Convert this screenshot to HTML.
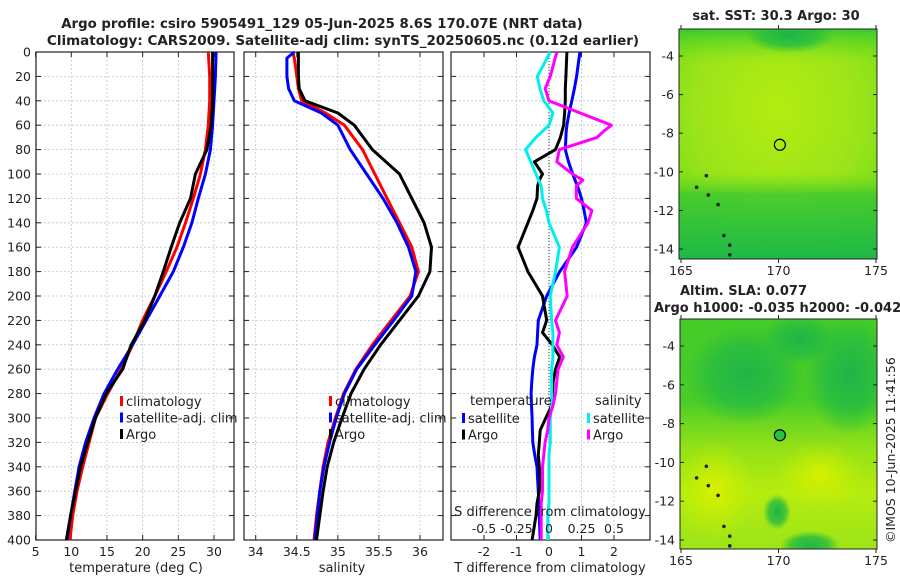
<!DOCTYPE html>
<html><head><meta charset="utf-8"><style>
body{margin:0;background:#fff;width:900px;height:580px;overflow:hidden;font-family:"Liberation Sans","DejaVu Sans",sans-serif}
svg text{font-family:"DejaVu Sans","Liberation Sans",sans-serif;fill:#222}
</style></head><body>
<svg id="c" width="900" height="580" xmlns="http://www.w3.org/2000/svg">
<defs>
<radialGradient id="g1a" cx="0.5" cy="0.35" r="0.7"><stop offset="0" stop-color="#b4ec10"/><stop offset="0.6" stop-color="#9be41a"/><stop offset="1" stop-color="#6fdc18"/></radialGradient>
<linearGradient id="g1b" x1="0" y1="0" x2="0" y2="1"><stop offset="0" stop-color="#2fc830" stop-opacity="0.9"/><stop offset="0.15" stop-color="#6fdc18" stop-opacity="0"/><stop offset="0.62" stop-color="#6fdc18" stop-opacity="0"/><stop offset="0.72" stop-color="#3cc830" stop-opacity="0.85"/><stop offset="1" stop-color="#1eb848" stop-opacity="1"/></linearGradient>
<linearGradient id="g2a" x1="0" y1="0" x2="0" y2="1"><stop offset="0" stop-color="#44cc28"/><stop offset="0.35" stop-color="#48cc28"/><stop offset="0.55" stop-color="#90e018"/><stop offset="0.75" stop-color="#b6ec10"/><stop offset="1" stop-color="#9ce418"/></linearGradient>
<radialGradient id="g2b" cx="0.5" cy="0.5" r="0.5"><stop offset="0" stop-color="#20b448"/><stop offset="0.6" stop-color="#28bc40" stop-opacity="0.8"/><stop offset="1" stop-color="#30c038" stop-opacity="0"/></radialGradient>
<radialGradient id="g2c" cx="0.5" cy="0.5" r="0.5"><stop offset="0" stop-color="#d8f000"/><stop offset="1" stop-color="#c8f000" stop-opacity="0"/></radialGradient>
</defs>
</svg>
<script>
// ---- data ----
const depths=[0,20,40,60,80,100,120,140,160,180,200,220,240,260,280,300,320,340,360,380,400];
const tempClim=[29.2,29.4,29.4,29.2,28.8,28.1,27.1,26.0,24.8,23.3,21.7,20.0,18.6,17.0,15.1,13.4,12.5,11.6,10.8,10.2,9.8];
const tempSat=[30.3,30.2,30.0,29.8,29.5,28.8,27.8,26.9,25.7,24.3,22.4,20.5,18.6,16.5,14.6,13.2,12.0,11.1,10.5,9.9,9.4];
const tempArgo=[29.8,29.8,29.8,29.6,29.0,27.4,26.7,25.2,24.0,22.9,21.7,20.3,18.4,17.2,14.9,13.4,12.3,11.3,10.6,9.9,9.3];
const salDepths=[0,5,20,30,40,50,60,80,100,120,140,160,180,200,220,240,260,280,300,320,340,360,380,400];
const salClim=[34.45,34.47,34.5,34.52,34.56,34.85,35.08,35.3,35.45,35.6,35.75,35.9,35.98,35.88,35.65,35.42,35.22,35.07,34.97,34.88,34.82,34.78,34.74,34.71];
const salSat=[34.47,34.38,34.38,34.4,34.47,34.8,35.0,35.15,35.35,35.55,35.72,35.86,35.95,35.9,35.68,35.45,35.23,35.08,34.98,34.9,34.83,34.78,34.75,34.72];
const salArgo=[34.52,34.52,34.52,34.53,34.6,35.0,35.2,35.42,35.75,35.9,36.05,36.14,36.12,35.98,35.75,35.52,35.32,35.16,35.05,34.95,34.87,34.82,34.78,34.74];
const dDepths=[0,20,30,40,50,60,65,70,80,90,100,105,110,120,130,140,160,180,200,220,230,240,250,260,270,280,290,300,310,320,330,340,350,360,370,380,400];
const dTArgo=[0.55,0.52,0.5,0.5,0.48,0.45,0.4,0.35,0.2,-0.45,-0.2,-0.3,-0.35,-0.37,-0.5,-0.65,-0.95,-0.65,-0.2,-0.07,-0.2,0.1,0.33,0.2,0.13,0.1,0.08,-0.1,-0.27,-0.3,-0.33,-0.3,-0.27,-0.3,-0.37,-0.4,-0.52];
const dTSat=[0.95,0.85,0.78,0.7,0.62,0.55,0.53,0.52,0.5,0.6,0.73,0.8,0.88,1.0,1.08,1.15,0.85,0.33,-0.07,-0.33,-0.35,-0.37,-0.45,-0.5,-0.53,-0.55,-0.54,-0.52,-0.51,-0.5,-0.44,-0.37,-0.35,-0.33,-0.31,-0.3,-0.27];
const dSSat=[0.01,-0.09,-0.07,-0.04,0.03,0.0,-0.05,-0.1,-0.18,-0.14,-0.1,-0.08,-0.06,-0.05,-0.02,0.0,0.08,0.05,0.01,0.02,0.03,0.03,0.03,0.02,0.02,0.02,0.02,0.01,0.01,0.01,0.0,0.0,0.0,0.0,0.0,-0.01,-0.01];
const dSArgo=[0.06,0.01,-0.03,0.0,0.24,0.48,0.42,0.37,0.08,0.06,0.18,0.26,0.21,0.21,0.33,0.3,0.18,0.12,0.14,0.05,0.08,0.06,0.11,0.07,0.06,0.05,0.03,0.0,-0.01,-0.03,-0.04,-0.05,-0.05,-0.05,-0.06,-0.06,-0.06];
const yTicks=[0,20,40,60,80,100,120,140,160,180,200,220,240,260,280,300,320,340,360,380,400];
const tTicks=[5,10,15,20,25,30];
const sTicks=[34,34.5,35,35.5,36];
const dtTicks=[-2,-1,0,1,2];
const dsTicks=[-0.5,-0.25,0,0.25,0.5];
const dsTickLabels=["-0.5","-0.25","0","0.25","0.5"];
const latTicks=[-4,-6,-8,-10,-12,-14];
const lonTicks=[165,170,175];
const argoLon=170.07, argoLat=-8.6;

// ---- helpers ----
const svg=document.getElementById('c');
const NS='http://www.w3.org/2000/svg';
function mk(tag,attrs,parent){const e=document.createElementNS(NS,tag);for(const k in attrs)e.setAttribute(k,attrs[k]);(parent||svg).appendChild(e);return e;}
function txt(s,x,y,attrs,parent){const e=mk('text',Object.assign({x:x,y:y},attrs||{}),parent);e.textContent=s;return e;}
const Y0=52,Y1=540;
const yS=d=>Y0+(d/400)*(Y1-Y0);
function linScale(d0,d1,r0,r1){return v=>r0+(v-d0)/(d1-d0)*(r1-r0);}

function panel(name,x0,x1,xs,xticks,xlabels,showY){
  const g=mk('g',{});
  
  
  mk('rect',{x:x0,y:Y0,width:x1-x0,height:Y1-Y0,fill:'#fff'},g);
  yTicks.forEach(d=>{mk('line',{x1:x0,x2:x1,y1:yS(d),y2:yS(d),stroke:'#b8c4e0','stroke-width':0.8,'stroke-dasharray':'2,2'},g);
    mk('line',{x1:x0,x2:x0+5,y1:yS(d),y2:yS(d),stroke:'#222'},g);mk('line',{x1:x1-5,x2:x1,y1:yS(d),y2:yS(d),stroke:'#222'},g);
    if(showY){const t=txt(String(d),x0-5,yS(d)+4.5,{'text-anchor':'end','font-size':12.5},g);}
  });
  xticks.forEach((v,i)=>{const x=xs(v);mk('line',{x1:x,x2:x,y1:Y0,y2:Y1,stroke:'#b8c4e0','stroke-width':0.8,'stroke-dasharray':'2,2'},g);
    mk('line',{x1:x,x2:x,y1:Y0,y2:Y0+5,stroke:'#222'},g);mk('line',{x1:x,x2:x,y1:Y1-5,y2:Y1,stroke:'#222'},g);
    if(xlabels){const t=txt(xlabels[i],x,556,{'text-anchor':'middle','font-size':12.5},g);}
  });
  mk('rect',{x:x0,y:Y0,width:x1-x0,height:Y1-Y0,fill:'none',stroke:'#222','stroke-width':1.2},g);
  return g;
}
function series(name,g,xs,vals,ds,color,w){
  const p=ds.map((d,i)=>(i?'L':'M')+xs(vals[i]).toFixed(1)+','+yS(d).toFixed(1)).join('');
  const e=mk('path',{d:p,fill:'none',stroke:color,'stroke-width':w||3,'stroke-linejoin':'round'},g);
  
  
}
function legend(g,x,y,items,fs){
  items.forEach((it,i)=>{const yy=y+i*16.5;
    mk('rect',{x:x,y:yy-9,width:3,height:10,fill:it[1]},g);
    const t=txt(it[0],x+6,yy+1,{'font-size':fs||13},g);
    
    
  });
}

// titles
let t=txt('Argo profile: csiro 5905491_129 05-Jun-2025 8.6S 170.07E (NRT data)',322,28,{'text-anchor':'middle','font-size':13.3,'font-weight':'bold'});

t=txt('Climatology: CARS2009. Satellite-adj clim: synTS_20250605.nc (0.12d earlier)',343,45,{'text-anchor':'middle','font-size':13.5,'font-weight':'bold'});


// panel 1 temperature
const xT=linScale(5,30,35.6,214);
const g1=panel('temperature-panel',36,234,xT,tTicks,tTicks.map(String),true);
series('temp-climatology-line',g1,xT,tempClim,depths,'#f00');
series('temp-satellite-line',g1,xT,tempSat,depths,'#00f');
series('temp-argo-line',g1,xT,tempArgo,depths,'#000');
legend(g1,120,405,[['climatology','#f00'],['satellite-adj. clim','#00f'],['Argo','#000']]);
t=txt('temperature (deg C)',136,572,{'text-anchor':'middle','font-size':13});

// panel 2 salinity
const xS=linScale(34,36,255.7,420);
const g2=panel('salinity-panel',244,443,xS,sTicks,['34','34.5','35','35.5','36'],false);
series('sal-climatology-line',g2,xS,salClim,salDepths,'#f00');
series('sal-satellite-line',g2,xS,salSat,salDepths,'#00f');
series('sal-argo-line',g2,xS,salArgo,salDepths,'#000');
legend(g2,329,405,[['climatology','#f00'],['satellite-adj. clim','#00f'],['Argo','#000']]);
t=txt('salinity',342,572,{'text-anchor':'middle','font-size':13});

// panel 3 differences
const xDT=linScale(-2,2,484,614);
const xDS=linScale(-0.5,0.5,484,614);
const g3=panel('difference-panel',451,650,xDT,dtTicks,dtTicks.map(String),false);
mk('line',{x1:xDT(0),x2:xDT(0),y1:Y0,y2:Y1,stroke:'#333','stroke-width':1,'stroke-dasharray':'1,2'},g3);
series('dT-satellite-line',g3,xDT,dTSat,dDepths,'#00f');
series('dT-argo-line',g3,xDT,dTArgo,dDepths,'#000');
series('dS-satellite-line',g3,xDS,dSSat,dDepths,'#0ee');
series('dS-argo-line',g3,xDS,dSArgo,dDepths,'#f0f');
t=txt('temperature',470,405,{'font-size':13},g3);
t=txt('salinity',595,405,{'font-size':13},g3);
legend(g3,462,422,[['satellite','#00f'],['Argo','#000']]);
legend(g3,587,422,[['satellite','#0ee'],['Argo','#f0f']]);
t=txt('S difference from climatology',550,516,{'text-anchor':'middle','font-size':13},g3);
dsTicks.forEach((v,i)=>{const e=txt(dsTickLabels[i],xDS(v),533,{'text-anchor':'middle','font-size':12.5},g3);});
t=txt('T difference from climatology',550,572,{'text-anchor':'middle','font-size':13});

// maps
function map(name,x0,x1,y0,y1,latY4,latY14,fill,extra){
  const g=mk('g',{});
  
  
  const lon=linScale(165,175,681,876), lat=linScale(-4,-14,latY4,latY14);
  const cp='clip'+name;
  const cl=mk('clipPath',{id:cp},g);mk('rect',{x:x0,y:y0,width:x1-x0,height:y1-y0},cl);
  const inner=mk('g',{'clip-path':'url(#'+cp+')'},g);
  fill(inner,x0,x1,y0,y1,lon,lat);
  mk('rect',{x:x0,y:y0,width:x1-x0,height:y1-y0,fill:'none',stroke:'#222','stroke-width':1},g);
  latTicks.forEach(v=>{mk('line',{x1:x0,x2:x0+4,y1:lat(v),y2:lat(v),stroke:'#222'},g);mk('line',{x1:x1-4,x2:x1,y1:lat(v),y2:lat(v),stroke:'#222'},g);
    const e=txt(String(v),x0-5,lat(v)+4.5,{'text-anchor':'end','font-size':12.5},g);});
  lonTicks.forEach(v=>{mk('line',{x1:lon(v),x2:lon(v),y1:y1,y2:y1+4,stroke:'#222'},g);mk('line',{x1:lon(v),x2:lon(v),y1:y0-4,y2:y0,stroke:'#222'},g);
    const e=txt(String(v),lon(v),y1+16,{'text-anchor':'middle','font-size':12.5},g);});
  [[165.8,-10.8],[166.3,-10.2],[166.9,-11.7],[167.2,-13.3],[167.5,-13.8],[167.5,-14.3],[166.4,-11.2]].forEach(p=>{
    mk('circle',{cx:lon(p[0]),cy:lat(p[1]),r:1.8,fill:'#222'},g);});
  const c=mk('circle',{cx:lon(argoLon),cy:lat(argoLat),r:5.5,fill:extra,stroke:'#000','stroke-width':1.2},g);
  
  
  return g;
}
map('sst-map',679,877,29,259,56,249,(g,x0,x1,y0,y1)=>{
  mk('rect',{x:x0,y:y0,width:x1-x0,height:y1-y0,fill:'url(#g1a)'},g);
  mk('rect',{x:x0,y:y0,width:x1-x0,height:y1-y0,fill:'url(#g1b)'},g);
  mk('ellipse',{cx:790,cy:35,rx:45,ry:18,fill:'url(#g2b)'},g);
},'none');
t=txt('sat. SST: 30.3 Argo: 30',776,20,{'text-anchor':'middle','font-size':13,'font-weight':'bold'});
map('sla-map',680,877,319,549,346,540,(g,x0,x1,y0,y1)=>{
  mk('rect',{x:x0,y:y0,width:x1-x0,height:y1-y0,fill:'url(#g2a)'},g);
  mk('ellipse',{cx:745,cy:375,rx:60,ry:50,fill:'url(#g2b)'},g);
  mk('ellipse',{cx:850,cy:375,rx:45,ry:60,fill:'url(#g2b)'},g);
  mk('ellipse',{cx:800,cy:340,rx:40,ry:25,fill:'url(#g2b)'},g);
  mk('ellipse',{cx:715,cy:490,rx:40,ry:50,fill:'url(#g2c)'},g);
  mk('ellipse',{cx:820,cy:475,rx:45,ry:35,fill:'url(#g2c)'},g);
  mk('ellipse',{cx:777,cy:512,rx:14,ry:18,fill:'url(#g2b)'},g);
  mk('ellipse',{cx:810,cy:545,rx:30,ry:14,fill:'url(#g2b)'},g);
},'#2cc040');
t=txt('Altim. SLA: 0.077',680,295,{'font-size':13,'font-weight':'bold'});
t=txt('Argo h1000: -0.035 h2000: -0.042',654,312,{'font-size':13,'font-weight':'bold'});
t=txt('©IMOS 10-Jun-2025 11:41:56',0,0,{'font-size':12.5,transform:'translate(895,543) rotate(-90)'});
</script>
</body></html>
